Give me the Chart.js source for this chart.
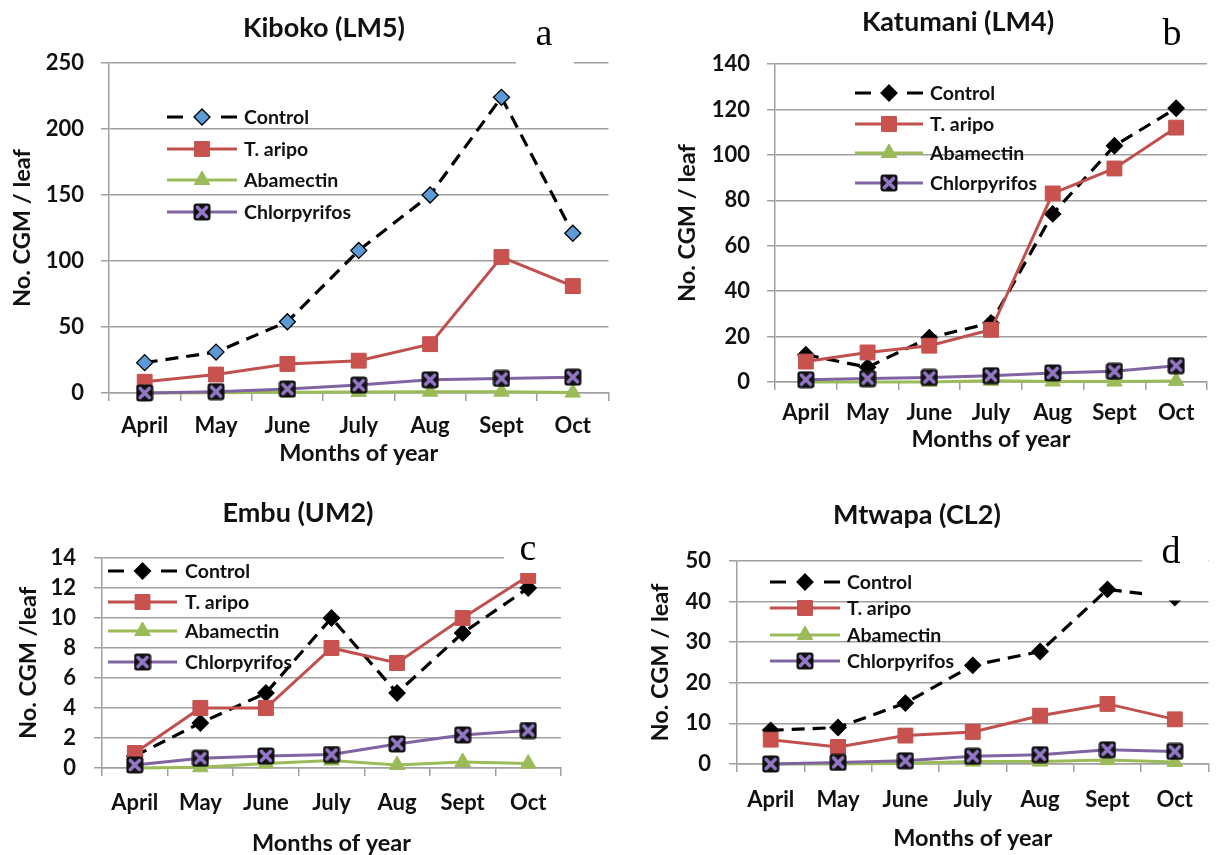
<!DOCTYPE html>
<html>
<head>
<meta charset="utf-8">
<title>CGM per leaf by month</title>
<script src="https://cdn.jsdelivr.net/npm/chart.js@4.4.1/dist/chart.umd.min.js"></script>
<style>
  html, body { margin: 0; padding: 0; background: #ffffff; }
  #wrap { position: relative; width: 1220px; height: 855px; overflow: hidden; background: #ffffff; }
  #wrap canvas { position: absolute; }
</style>
</head>
<body>
<div id="wrap">
  <canvas id="kiboko"></canvas>
  <canvas id="katumani"></canvas>
  <canvas id="embu"></canvas>
  <canvas id="mtwapa"></canvas>
</div>
<script>
// ---- data -------------------------------------------------------------
const months = ['April', 'May', 'June', 'July', 'Aug', 'Sept', 'Oct'];
const seriesNames = ['Control', 'T. aripo', 'Abamectin', 'Chlorpyrifos'];

// Kiboko (LM5)
const kibokoControl      = [23, 31, 54, 108, 150, 224, 121];
const kibokoTaripo       = [8.5, 14, 22, 24.5, 37, 103, 81];
const kibokoAbamectin    = [0, 0.2, 0.5, 0.8, 1, 1, 0.3];
const kibokoChlorpyrifos = [0, 1, 3, 6, 10, 11, 12];
const kibokoTicks        = [0, 50, 100, 150, 200, 250];

// Katumani (LM4)
const katumaniControl      = [12, 6.5, 19.5, 26, 74, 104, 120.5];
const katumaniTaripo       = [9, 13, 16, 23, 83, 94, 112];
const katumaniAbamectin    = [0, 0, 0, 0.5, 0.2, 0.2, 0.4];
const katumaniChlorpyrifos = [1, 1.5, 2, 2.8, 4, 4.7, 7.2];
const katumaniTicks        = [0, 20, 40, 60, 80, 100, 120, 140];

// Embu (UM2)
const embuControl      = [0.8, 3, 5, 10, 5, 9, 12];
const embuTaripo       = [1, 4, 4, 8, 7, 10, 12.8];
const embuAbamectin    = [0, 0.05, 0.3, 0.5, 0.2, 0.4, 0.3];
const embuChlorpyrifos = [0.2, 0.65, 0.8, 0.9, 1.6, 2.2, 2.5];
const embuTicks        = [0, 2, 4, 6, 8, 10, 12, 14];

// Mtwapa (CL2)
const mtwapaControl      = [8.3, 9, 15, 24.3, 27.7, 43, 41];
const mtwapaTaripo       = [6, 4.2, 7, 7.9, 11.9, 14.8, 11];
const mtwapaAbamectin    = [0, 0, 0.2, 0.6, 0.6, 1, 0.5];
const mtwapaChlorpyrifos = [0, 0.4, 0.8, 1.9, 2.3, 3.5, 3.1];
const mtwapaTicks        = [0, 10, 20, 30, 40, 50];

// ---- styling ----------------------------------------------------------
const FONT = 'Lato';
const TEXT = '#111111';
const GRID = '#a0a0a0';
const TITLE_SIZE = 27, TICK_SIZE = 22, AXIS_SIZE = 23.5, LEGEND_SIZE = 19.5;
const TICK_LEN = 8;

Chart.defaults.font.family = FONT;
Chart.defaults.color = TEXT;

// square marker with a purple cross, used for Chlorpyrifos
function crossBox(size) {
  const c = document.createElement('canvas');
  c.width = size; c.height = size;
  const g = c.getContext('2d');
  g.fillStyle = '#121212';
  g.beginPath();
  if (g.roundRect) g.roundRect(0.5, 0.5, size - 1, size - 1, 3); else g.rect(0.5, 0.5, size - 1, size - 1);
  g.fill();
  g.strokeStyle = '#9378c6';
  g.lineWidth = 3.6;
  g.lineCap = 'round';
  g.beginPath();
  g.moveTo(4.5, 4.5); g.lineTo(size - 4.5, size - 4.5);
  g.moveTo(size - 4.5, 4.5); g.lineTo(4.5, size - 4.5);
  g.stroke();
  return c;
}
const crossMarker = crossBox(18);

// ---- panel layout -----------------------------------------------------
const panels = [
  { id: 'kiboko', title: 'Kiboko (LM5)', yTitle: 'No. CGM / leaf',
    series: [kibokoControl, kibokoTaripo, kibokoAbamectin, kibokoChlorpyrifos], ticks: kibokoTicks,
    controlFill: '#5b9bd5',
    box: { left: 0, top: 0, width: 620, height: 470 },
    plot: { left: 109, right: 616, top: 63, bottom: 393 },
    titleAt: [324, 28], yTitleX: 22, yLabelRight: 84, xLabelY: 426, xTitleY: 453,
    legend: { x0: 167, x1: 237, textX: 244, rows: [117, 149, 180, 212] },
    letter: { ch: 'a', x: 544, base: 45, rect: [516, 12, 58, 54] } },
  { id: 'katumani', title: 'Katumani (LM4)', yTitle: 'No. CGM / leaf',
    series: [katumaniControl, katumaniTaripo, katumaniAbamectin, katumaniChlorpyrifos], ticks: katumaniTicks,
    controlFill: '#000000',
    box: { left: 620, top: 0, width: 600, height: 460 },
    plot: { left: 775, right: 1207, top: 64, bottom: 382 },
    titleAt: [958, 22], yTitleX: 687, yLabelRight: 750, xLabelY: 413, xTitleY: 439,
    legend: { x0: 855, x1: 923, textX: 930, rows: [93, 124, 153, 183] },
    letter: { ch: 'b', x: 1172, base: 45, rect: [1145, 5, 55, 55] } },
  { id: 'embu', title: 'Embu (UM2)', yTitle: 'No. CGM /leaf',
    series: [embuControl, embuTaripo, embuAbamectin, embuChlorpyrifos], ticks: embuTicks,
    controlFill: '#000000',
    box: { left: 0, top: 470, width: 600, height: 385 },
    plot: { left: 102, right: 561, top: 558, bottom: 768 },
    titleAt: [298, 513], yTitleX: 28, yLabelRight: 76, xLabelY: 803, xTitleY: 843,
    legend: { x0: 108, x1: 177, textX: 185, rows: [571, 602, 631, 662] },
    letter: { ch: 'c', x: 528, base: 560, rect: [504, 528, 60, 45] } },
  { id: 'mtwapa', title: 'Mtwapa (CL2)', yTitle: 'No. CGM / leaf',
    series: [mtwapaControl, mtwapaTaripo, mtwapaAbamectin, mtwapaChlorpyrifos], ticks: mtwapaTicks,
    controlFill: '#000000',
    box: { left: 620, top: 470, width: 600, height: 385 },
    plot: { left: 737, right: 1216, top: 561, bottom: 764 },
    titleAt: [917, 515], yTitleX: 660, yLabelRight: 711, xLabelY: 800, xTitleY: 838,
    legend: { x0: 770, x1: 840, textX: 847, rows: [582, 608, 635, 661] },
    letter: { ch: 'd', x: 1171, base: 563, rect: [1142, 530, 66, 70.5] } }
];

// legend, title centring and panel letter
function decorations(p) {
  const ox = p.box.left, oy = p.box.top;
  return {
    id: 'decor_' + p.id,
    afterLayout(chart) {
      const tb = chart.titleBlock;
      if (!tb) return;
      const w = tb.right - tb.left;
      const cx = p.titleAt[0] - ox;
      tb.left = cx - w / 2;
      tb.right = cx + w / 2;
    },
    beforeDatasetsDraw(chart) {
      const ctx = chart.ctx;
      const L = p.legend;
      chart.data.datasets.forEach((ds, i) => {
        const y = L.rows[i] - oy, x0 = L.x0 - ox, x1 = L.x1 - ox, xm = (x0 + x1) / 2;
        ctx.save();
        ctx.strokeStyle = ds.borderColor;
        ctx.lineWidth = ds.borderWidth;
        ctx.beginPath();
        if (ds.borderDash && ds.borderDash.length) {
          ctx.moveTo(x0, y); ctx.lineTo(x0 + 16, y);
          ctx.moveTo(x1 - 16, y); ctx.lineTo(x1, y);
        } else {
          ctx.moveTo(x0, y); ctx.lineTo(x1, y);
        }
        ctx.stroke();
        ctx.fillStyle = ds.pointBackgroundColor;
        ctx.strokeStyle = ds.pointBorderColor;
        ctx.lineWidth = ds.pointBorderWidth;
        Chart.helpers.drawPoint(ctx, {
          pointStyle: ds.pointStyle, radius: ds.pointRadius, rotation: 0, borderWidth: ds.pointBorderWidth
        }, xm, y);
        ctx.fillStyle = TEXT;
        ctx.font = 'bold ' + LEGEND_SIZE + 'px ' + FONT;
        ctx.textAlign = 'left';
        ctx.textBaseline = 'middle';
        ctx.fillText(ds.label, L.textX - ox, y + 1);
        ctx.restore();
      });
    },
    afterDraw(chart) {
      const ctx = chart.ctx;
      const m = p.letter;
      ctx.save();
      ctx.fillStyle = '#ffffff';
      ctx.fillRect(m.rect[0] - ox, m.rect[1] - oy, m.rect[2], m.rect[3]);
      ctx.fillStyle = '#000000';
      ctx.font = '38px "Liberation Serif"';
      ctx.textAlign = 'center';
      ctx.textBaseline = 'alphabetic';
      ctx.fillText(m.ch, m.x - ox, m.base - oy);
      ctx.restore();
    }
  };
}

function buildPanel(p) {
  const cv = document.getElementById(p.id);
  cv.width = p.box.width;
  cv.height = p.box.height;
  cv.style.left = p.box.left + 'px';
  cv.style.top = p.box.top + 'px';

  const titleLH = TITLE_SIZE * 1.2;
  const tickLH = TICK_SIZE * 1.2;
  const axisLH = AXIS_SIZE * 1.0;
  const titlePadTop = (p.titleAt[1] - p.box.top) - titleLH / 2;
  const titlePadBottom = (p.plot.top - p.box.top) - titlePadTop - titleLH;
  const yMin = p.ticks[0], yMax = p.ticks[p.ticks.length - 1];
  const yStep = p.ticks[1] - p.ticks[0];

  const datasets = [
    { label: seriesNames[0], data: p.series[0], borderColor: '#000000', borderWidth: 3.2, borderDash: [13, 8],
      pointStyle: 'rectRot', pointRadius: 8, pointBackgroundColor: p.controlFill,
      pointBorderColor: '#000000', pointBorderWidth: 1.3, order: 4 },
    { label: seriesNames[1], data: p.series[1], borderColor: '#c0504d', borderWidth: 3,
      pointStyle: 'rect', pointRadius: 10.5, pointBackgroundColor: '#c9524f',
      pointBorderColor: '#c0504d', pointBorderWidth: 1, order: 3 },
    { label: seriesNames[2], data: p.series[2], borderColor: '#9bbb59', borderWidth: 3,
      pointStyle: 'triangle', pointRadius: 9, pointBackgroundColor: '#9bbb59',
      pointBorderColor: '#9bbb59', pointBorderWidth: 1, order: 2 },
    { label: seriesNames[3], data: p.series[3], borderColor: '#8064a2', borderWidth: 3,
      pointStyle: crossMarker, pointRadius: 9, pointBackgroundColor: '#121212',
      pointBorderColor: '#121212', pointBorderWidth: 0, order: 1 }
  ].map(d => Object.assign(d, { tension: 0, clip: false, fill: false }));

  return new Chart(cv, {
    type: 'line',
    data: { labels: months, datasets },
    options: {
      responsive: false,
      animation: false,
      devicePixelRatio: 1,
      events: [],
      layout: { padding: { left: 0, top: 0, bottom: 0, right: p.box.left + p.box.width - p.plot.right } },
      plugins: {
        legend: { display: false },
        tooltip: { enabled: false },
        title: {
          display: true, text: p.title, color: TEXT,
          font: { size: TITLE_SIZE, weight: 'bold', lineHeight: 1.2 },
          padding: { top: titlePadTop, bottom: titlePadBottom }
        }
      },
      scales: {
        x: {
          type: 'category',
          offset: true,
          grid: { offset: true, drawOnChartArea: false, drawTicks: true, tickLength: TICK_LEN, color: GRID, lineWidth: 1.5 },
          border: { display: true, color: GRID, width: 1.5 },
          ticks: { color: TEXT, font: { size: TICK_SIZE, weight: 'bold', lineHeight: 1.2 }, maxRotation: 0, autoSkip: false,
                   padding: p.xLabelY - p.plot.bottom - TICK_LEN - tickLH / 2 },
          title: { display: true, text: 'Months of year', color: TEXT,
                   font: { size: AXIS_SIZE, weight: 'bold', lineHeight: 1.0 },
                   padding: { top: 0, bottom: (p.box.top + p.box.height) - p.xTitleY - axisLH / 2 } },
          afterFit(scale) { scale.height = p.box.top + p.box.height - p.plot.bottom; }
        },
        y: {
          min: yMin, max: yMax,
          grid: { color: GRID, lineWidth: 1.5, drawTicks: true, tickLength: TICK_LEN },
          border: { display: true, color: GRID, width: 1.5 },
          ticks: { stepSize: yStep, color: TEXT, font: { size: TICK_SIZE, weight: 'bold', lineHeight: 1.2 },
                   padding: p.plot.left - p.yLabelRight - TICK_LEN },
          title: { display: true, text: p.yTitle, color: TEXT,
                   font: { size: AXIS_SIZE, weight: 'bold', lineHeight: 1.0 },
                   padding: { top: p.yTitleX - p.box.left - axisLH / 2, bottom: 0 } },
          afterFit(scale) { scale.width = p.plot.left - p.box.left; }
        }
      }
    },
    plugins: [decorations(p)]
  });
}

panels.forEach(buildPanel);
</script>
</body>
</html>
